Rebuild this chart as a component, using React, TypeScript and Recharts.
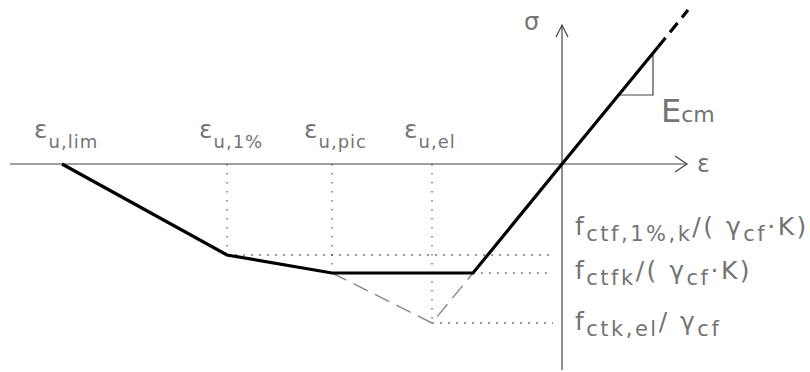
import React from 'react';
import { ComposedChart, Line, XAxis, YAxis, ReferenceDot } from 'recharts';

type Pt = { x: number; y: number };
type Part = { t: string; sub?: boolean };

// Design stress–strain law for fibre reinforced concrete (tension to the left, compression to the right)
const designCurve: Pt[] = [
  { x: -50, y: 0 },
  { x: -33.5, y: -9.1 },
  { x: -23, y: -10.9 },
  { x: -8.9, y: -10.9 },
  { x: 0, y: 0 },
  { x: 9.6, y: 11.7 },
];

// Continuation of the linear compression branch
const compressionExtension: Pt[] = [
  { x: 9.6, y: 11.7 },
  { x: 12.6, y: 15.4 },
];

// Elastic branch up to the tensile peak and softening down to the plateau
const elasticPeakBranch: Pt[] = [
  { x: -23, y: -10.9 },
  { x: -13, y: -15.9 },
  { x: -8.9, y: -10.9 },
];

// Strain marks projected onto the strain axis
const strainMarks: Pt[] = [
  { x: -33.5, y: -9.1 },
  { x: -23, y: -10.9 },
  { x: -13, y: -15.9 },
];

// Stress levels projected onto the stress axis
const stressMarks: Pt[] = [
  { x: -33.5, y: -9.1 },
  { x: -8.9, y: -10.9 },
  { x: -13, y: -15.9 },
];
const stressAxisStop = -0.9;

// Slope triangle of the elastic modulus
const modulusTriangle: Pt[] = [
  { x: 5.7, y: 6.9 },
  { x: 9.1, y: 6.9 },
  { x: 9.1, y: 11.0 },
];

// Coordinate axes with open arrow heads
const strainAxis: Pt[] = [
  { x: -55.2, y: 0 },
  { x: 12.5, y: 0 },
];
const strainArrow: Pt[] = [
  { x: 11.3, y: 0.8 },
  { x: 12.5, y: 0 },
  { x: 11.3, y: -0.8 },
];
const stressAxis: Pt[] = [
  { x: 0, y: -20.6 },
  { x: 0, y: 13.9 },
];
const stressArrow: Pt[] = [
  { x: -0.6, y: 12.7 },
  { x: 0, y: 13.9 },
  { x: 0.6, y: 12.7 },
];

// Labels of the characteristic strains
const strainLabels = [
  { x: -50, sub: 'u,lim' },
  { x: -33.5, sub: 'u,1%' },
  { x: -23, sub: 'u,pic' },
  { x: -13, sub: 'u,el' },
];

// Labels of the characteristic stresses
const stressLabels: { y: number; parts: Part[] }[] = [
  {
    y: -9.1,
    parts: [
      { t: 'f' },
      { t: 'ctf,1%,k', sub: true },
      { t: '/( γ' },
      { t: 'cf', sub: true },
      { t: '·K)' },
    ],
  },
  {
    y: -10.9,
    parts: [
      { t: 'f' },
      { t: 'ctfk', sub: true },
      { t: '/( γ' },
      { t: 'cf', sub: true },
      { t: '·K)' },
    ],
  },
  {
    y: -15.9,
    parts: [
      { t: 'f' },
      { t: 'ctk,el', sub: true },
      { t: '/ γ' },
      { t: 'cf', sub: true },
    ],
  },
];
const stressLabelShift = [-20, 6, 7];

const W = 810;
const H = 372;
const X_DOMAIN: [number, number] = [-56.2, 24.8];
const Y_DOMAIN: [number, number] = [-20.8, 16.4];

const TEXT = '#747474';
const FONT = '"DejaVu Sans", sans-serif';

function rich(parts: Part[], mainSize: number, subSize: number, subShift: number) {
  let level = 0;
  return parts.map((p, i) => {
    const target = p.sub ? subShift : 0;
    const dy = target - level;
    level = target;
    return (
      <tspan key={i} dy={dy} fontSize={p.sub ? subSize : mainSize}>
        {p.t}
      </tspan>
    );
  });
}

function seg(key: string, data: Pt[], stroke: string, width: number, dash?: string) {
  return (
    <Line
      key={key}
      data={data}
      dataKey="y"
      type="linear"
      stroke={stroke}
      strokeWidth={width}
      strokeDasharray={dash}
      dot={false}
      activeDot={false}
      isAnimationActive={false}
      legendType="none"
    />
  );
}

export default function App() {
  return (
    <div style={{ position: 'absolute', left: 0, top: 0, width: W, height: H, background: '#fff' }}>
      <ComposedChart width={W} height={H} margin={{ top: 0, right: 0, bottom: 0, left: 0 }}>
        <XAxis type="number" dataKey="x" domain={X_DOMAIN} allowDataOverflow hide />
        <YAxis type="number" dataKey="y" domain={Y_DOMAIN} allowDataOverflow hide />

        {seg('ax', strainAxis, '#444', 1.2)}
        {seg('axa', strainArrow, '#444', 1.2)}
        {seg('ay', stressAxis, '#444', 1.2)}
        {seg('aya', stressArrow, '#444', 1.2)}

        {strainMarks.map((p, i) =>
          seg(`v${i}`, [{ x: p.x, y: 0 }, p], '#333', 1, '1.5 7.5')
        )}
        {stressMarks.map((p, i) =>
          seg(`h${i}`, [p, { x: stressAxisStop, y: p.y }], '#333', 1, '2 6')
        )}

        {seg('peak', elasticPeakBranch, '#888', 1.4, '16 8')}
        {seg('tri', modulusTriangle, '#444', 1.2)}
        {seg('ext', compressionExtension, '#000', 3.2, '12 7')}
        {seg('main', designCurve, '#000', 3.2)}

        {strainLabels.map((l, i) => (
          <ReferenceDot
            key={`sl${i}`}
            x={l.x}
            y={0}
            shape={(p: any) => (
              <text x={p.cx - 28} y={p.cy - 26} fill={TEXT} fontFamily={FONT} style={{ letterSpacing: '1px' }}>
                {rich([{ t: 'ε' }, { t: l.sub, sub: true }], 25, 18, 10)}
              </text>
            )}
          />
        ))}

        {stressLabels.map((l, i) => (
          <ReferenceDot
            key={`fl${i}`}
            x={0}
            y={l.y}
            shape={(p: any) => (
              <text
                x={p.cx + 13}
                y={p.cy + stressLabelShift[i]}
                fill={TEXT}
                fontFamily={FONT}
                style={{ letterSpacing: '2.5px' }}
              >
                {rich(l.parts, 25, 21, 6)}
              </text>
            )}
          />
        ))}

        <ReferenceDot
          x={stressArrow[1].x}
          y={stressArrow[1].y}
          shape={(p: any) => (
            <text x={p.cx - 38} y={p.cy + 5} fill={TEXT} fontFamily={FONT} fontSize={24}>
              σ
            </text>
          )}
        />
        <ReferenceDot
          x={strainArrow[1].x}
          y={strainArrow[1].y}
          shape={(p: any) => (
            <text x={p.cx + 10} y={p.cy + 8} fill={TEXT} fontFamily={FONT} fontSize={24}>
              ε
            </text>
          )}
        />
        <ReferenceDot
          x={modulusTriangle[1].x}
          y={modulusTriangle[1].y}
          shape={(p: any) => (
            <text x={p.cx + 8} y={p.cy + 27} fill={TEXT} fontFamily={FONT}>
              {rich([{ t: 'E' }, { t: 'cm', sub: true }], 32, 22, 0)}
            </text>
          )}
        />
      </ComposedChart>
    </div>
  );
}
